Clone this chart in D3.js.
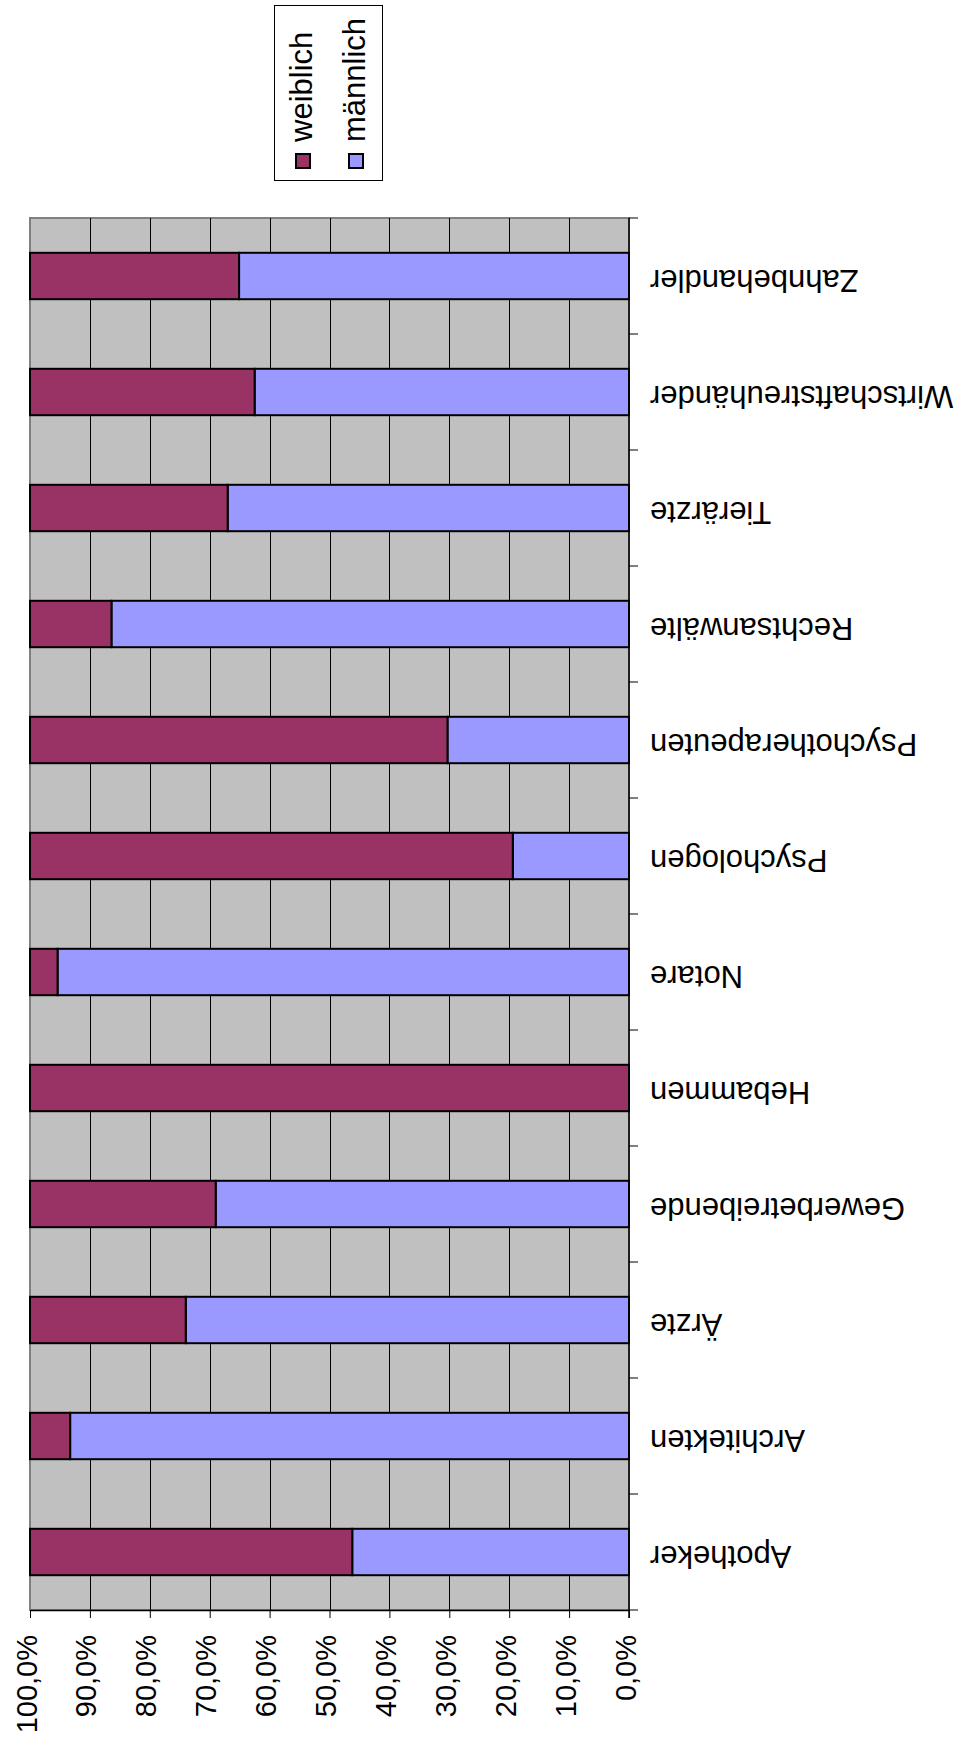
<!DOCTYPE html>
<html>
<head>
<meta charset="utf-8">
<script src="https://cdn.jsdelivr.net/npm/d3@7"></script>
<style>
  body { margin: 0; background: #fff; }
  text { font-family: "Liberation Sans", Arial, sans-serif; fill: #000; }
</style>
</head>
<body>
<div id="chart"></div>
<script>
var categories = ["Apotheker", "Architekten", "Ärzte", "Gewerbetreibende", "Hebammen", "Notare",
    "Psychologen", "Psychotherapeuten", "Rechtsanwälte", "Tierärzte", "Wirtschaftstreuhänder", "Zahnbehandler"];
var weiblich = [53.8, 6.7, 26.0, 31.0, 100, 4.6, 80.6, 69.7, 13.6, 33.0, 37.5, 34.9];
var maennlich = [46.2, 93.3, 74.0, 69.0, 0, 95.4, 19.4, 30.3, 86.4, 67.0, 62.5, 65.1];
var seriesNames = ["weiblich", "männlich"];
var valueTicks = [0, 10, 20, 30, 40, 50, 60, 70, 80, 90, 100];
var tickLabels = ["0,0%", "10,0%", "20,0%", "30,0%", "40,0%", "50,0%", "60,0%", "70,0%", "80,0%", "90,0%", "100,0%"];

(function () {
    var width = 958,
        height = 1744;

    // the whole chart is shown turned: values run right -> left, categories bottom -> top
    var plotLeft = 30, plotRight = 629, plotTop = 218, plotBottom = 1610;

    var svg = d3.select("#chart")
        .append("svg")
        .attr("width", width)
        .attr("height", height);

    var colors = { "weiblich": "#993366", "männlich": "#9999FF" };

    var table = categories.map(function (c, i) {
        return { name: c, "weiblich": weiblich[i], "männlich": maennlich[i] };
    });

    var x = d3.scaleLinear().domain([0, 100]).range([plotRight, plotLeft]);
    var y = d3.scaleBand().domain(categories)
        .range([plotBottom, plotTop])
        .paddingInner(0.6)
        .paddingOuter(0.3);

    // plot area
    svg.append("rect")
        .attr("x", plotLeft)
        .attr("y", plotTop)
        .attr("width", plotRight - plotLeft)
        .attr("height", plotBottom - plotTop)
        .attr("fill", "#C0C0C0")
        .attr("stroke", "#808080")
        .attr("stroke-width", 2);

    svg.append("g")
        .selectAll("line")
        .data(valueTicks.filter(function (d) { return d > 0 && d < 100; }))
        .enter().append("line")
        .attr("x1", function (d) { return Math.round(x(d)) + 0.5; })
        .attr("x2", function (d) { return Math.round(x(d)) + 0.5; })
        .attr("y1", plotTop)
        .attr("y2", plotBottom)
        .attr("stroke", "#000")
        .attr("stroke-width", 1);

    // stacked bars: männlich from 0, weiblich on top
    var stacked = d3.stack().keys(["männlich", "weiblich"])(table);

    svg.append("g")
        .selectAll("g")
        .data(stacked)
        .enter().append("g")
        .attr("fill", function (d) { return colors[d.key]; })
        .selectAll("rect")
        .data(function (d) { return d.filter(function (p) { return p[1] - p[0] > 0; }); })
        .enter().append("rect")
        .attr("x", function (d) { return x(d[1]); })
        .attr("y", function (d) { return y(d.data.name); })
        .attr("width", function (d) { return x(d[0]) - x(d[1]); })
        .attr("height", y.bandwidth())
        .attr("stroke", "#000")
        .attr("stroke-width", 2);

    // value axis (bottom)
    var xAxis = svg.append("g")
        .attr("transform", "translate(0," + plotBottom + ")")
        .call(d3.axisBottom(x)
            .tickValues(valueTicks)
            .tickSize(8)
            .tickSizeOuter(0)
            .tickFormat(function (d, i) { return tickLabels[i]; }));

    xAxis.select(".domain").attr("stroke", "#000").attr("stroke-width", 1.5);
    xAxis.selectAll(".tick line").attr("stroke", "#000");
    xAxis.selectAll(".tick text")
        .attr("transform", "rotate(-90)")
        .attr("x", -25)
        .attr("y", 6)
        .attr("dy", 0)
        .attr("text-anchor", "end")
        .attr("font-size", 29)
        .attr("font-family", "Liberation Sans, Arial, sans-serif");

    // category axis (right)
    var step = y.step();
    var bounds = d3.range(categories.length + 1).map(function (i) { return plotTop + i * step; });

    svg.append("line")
        .attr("x1", plotRight)
        .attr("x2", plotRight)
        .attr("y1", plotTop)
        .attr("y2", plotBottom + 8)
        .attr("stroke", "#000")
        .attr("stroke-width", 1.5);

    svg.append("g")
        .selectAll("line")
        .data(bounds)
        .enter().append("line")
        .attr("x1", plotRight)
        .attr("x2", plotRight + 9)
        .attr("y1", function (d) { return d; })
        .attr("y2", function (d) { return d; })
        .attr("stroke", "#000");

    svg.append("g")
        .selectAll("text")
        .data(categories)
        .enter().append("text")
        .attr("transform", function (d) {
            return "translate(650," + (y(d) + y.bandwidth() / 2 + 5) + ") rotate(180)";
        })
        .attr("text-anchor", "end")
        .attr("dy", "0.35em")
        .attr("font-size", 31)
        .text(function (d) { return d; });

    // legend
    var legend = svg.append("g");

    legend.append("rect")
        .attr("x", 274.5)
        .attr("y", 5.5)
        .attr("width", 108)
        .attr("height", 175)
        .attr("fill", "#fff")
        .attr("stroke", "#000")
        .attr("stroke-width", 1);

    var items = legend.selectAll(".item")
        .data(seriesNames)
        .enter().append("g")
        .attr("class", "item")
        .attr("transform", function (d, i) { return "translate(" + (i * 53) + ",0)"; });

    items.append("rect")
        .attr("x", 296)
        .attr("y", 154)
        .attr("width", 14)
        .attr("height", 14)
        .attr("fill", function (d) { return colors[d]; })
        .attr("stroke", "#000")
        .attr("stroke-width", 2);

    items.append("text")
        .attr("transform", "translate(312,142) rotate(-90)")
        .attr("font-size", 31)
        .text(function (d) { return d; });
})();
</script>
</body>
</html>
